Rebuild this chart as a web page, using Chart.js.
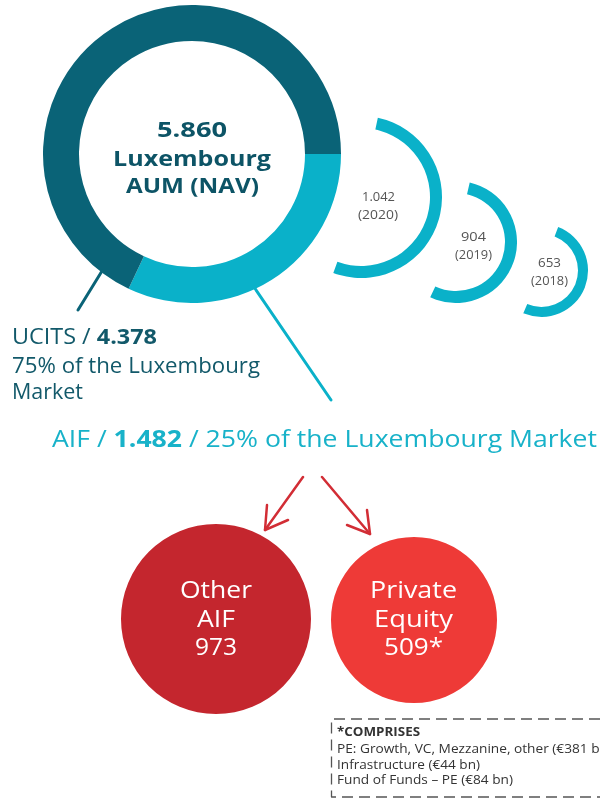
<!DOCTYPE html>
<html><head><meta charset="utf-8">
<script src="https://cdn.jsdelivr.net/npm/chart.js@4.4.1/dist/chart.umd.min.js"></script>
<style>
html,body{margin:0;padding:0;background:#fff;}
body{width:600px;height:798px;position:relative;overflow:hidden;font-family:"Open Sans","Noto Sans",sans-serif;}
canvas{position:absolute;}
.t{position:absolute;white-space:nowrap;line-height:1;transform-origin:0 0;}
svg{position:absolute;left:0;top:0;}
</style></head><body>
<script>
// ---- data ----
const ringLabels = ['AIF', 'UCITS'];
const ringShares = [32, 68];            // share of the ring as drawn in the picture
const marketLabels = ['UCITS', 'AIF'];
const marketValues = [4378, 1482];      // € bn
const marketPercents = [75, 25];
const totalAum = 5860;
const historyYears = ['2020', '2019', '2018'];
const historyValues = [1042, 904, 653];
const splitLabels = [['Other', 'AIF'], ['Private', 'Equity']];
const splitValues = [973, 509];
const peLabels = ['PE: Growth, VC, Mezzanine, other', 'Infrastructure', 'Fund of Funds \u2013 PE'];
const peValues = [381, 44, 84];

const fmt = v => String(v).replace(/\B(?=(\d{3})+(?!\d))/g, '.');

const DARK = '#0a6377', LIGHT = '#0ab1c9', RED1 = '#c4262e', RED2 = '#ee3a37';

function makeCanvas(left, top, size) {
  const c = document.createElement('canvas');
  c.width = size; c.height = size;
  c.style.left = left + 'px'; c.style.top = top + 'px';
  c.style.width = size + 'px'; c.style.height = size + 'px';
  document.body.appendChild(c);
  return c;
}
const baseOpts = {
  responsive: false, animation: false, devicePixelRatio: 1,
  layout: { padding: 0 }, events: [],
  plugins: { legend: { display: false }, tooltip: { enabled: false } },
  elements: { arc: { borderWidth: 0, borderColor: 'rgba(0,0,0,0)' } }
};

// main ring
new Chart(makeCanvas(43, 5, 298), {
  type: 'doughnut',
  data: { labels: ringLabels, datasets: [{ data: ringShares, backgroundColor: [LIGHT, DARK], borderWidth: 0 }] },
  options: Object.assign({}, baseOpts, { cutout: 113, rotation: 90 })
});

// history arcs
const arcGeo = [
  { cx: 361, cy: 197, r: 81, w: 12, start: -78, span: 188 },
  { cx: 456, cy: 242, r: 61, w: 12, start: -77, span: 192 },
  { cx: 541.5, cy: 270.5, r: 46.5, w: 10, start: -69, span: 182 }
];
historyValues.forEach((v, i) => {
  const g = arcGeo[i];
  const size = Math.round(g.r * 2);
  new Chart(makeCanvas(g.cx - size / 2, g.cy - size / 2, size), {
    type: 'doughnut',
    data: { labels: [historyYears[i], ''], datasets: [{ data: [v, v * (360 - g.span) / g.span], backgroundColor: [LIGHT, 'rgba(0,0,0,0)'], borderWidth: 0 }] },
    options: Object.assign({}, baseOpts, { cutout: g.r - g.w, rotation: g.start + 90 })
  });
});

// AIF split circles
const circGeo = [{ cx: 216, cy: 619, r: 95, c: RED1 }, { cx: 413.5, cy: 620, r: 83, c: RED2 }];
splitValues.forEach((v, i) => {
  const g = circGeo[i];
  const size = Math.round(g.r * 2);
  new Chart(makeCanvas(g.cx - size / 2, g.cy - size / 2, size), {
    type: 'pie',
    data: { labels: [splitLabels[i].join(' ')], datasets: [{ data: [v], backgroundColor: [g.c], borderWidth: 0 }] },
    options: Object.assign({}, baseOpts)
  });
});

// decorations
const svgNS = 'http://www.w3.org/2000/svg';
const svg = document.createElementNS(svgNS, 'svg');
svg.setAttribute('width', 600); svg.setAttribute('height', 798);
document.body.appendChild(svg);
function line(pts, color, w, dash) {
  const p = document.createElementNS(svgNS, 'polyline');
  p.setAttribute('points', pts.map(q => q.join(',')).join(' '));
  p.setAttribute('fill', 'none'); p.setAttribute('stroke', color);
  p.setAttribute('stroke-width', w); p.setAttribute('stroke-linecap', dash ? 'butt' : 'round');
  p.setAttribute('stroke-linejoin', 'round');
  if (dash) p.setAttribute('stroke-dasharray', dash);
  svg.appendChild(p);
}
line([[102, 271], [78, 310]], DARK, 3);
line([[254, 287], [331, 400]], LIGHT, 3);
const ARROW = '#d22d35';
line([[303, 477], [265, 530]], ARROW, 2.5);
line([[267, 505], [265, 530], [288, 520]], ARROW, 2.5);
line([[322, 477], [370, 534]], ARROW, 2.5);
line([[367, 510], [370, 534], [347, 525]], ARROW, 2.5);
line([[600, 719], [331.5, 719], [331.5, 797], [600, 797]], '#555', 1.3, '11 6');

// text: natural font, stretched horizontally to the measured width of the reference
function addText(html, x, baseline, size, o) {
  o = o || {};
  const d = document.createElement('div');
  d.className = 't';
  d.style.fontSize = size + 'px';
  d.style.top = (baseline - 0.888 * size) + 'px';
  d.style.color = o.color || '#000';
  d.style.fontWeight = o.weight || 400;
  d.innerHTML = html;
  document.body.appendChild(d);
  const w = d.getBoundingClientRect().width;
  let fw = w;
  if (o.width) {
    d.style.transform = 'scaleX(' + (o.width / w) + ')';
    fw = o.width;
  }
  d.style.left = (o.align === 'center' ? x - fw / 2 : x) + 'px';
  return d;
}
const CTXT = '#0d5466';
addText(fmt(totalAum), 192, 137, 22, { color: CTXT, weight: 700, align: 'center', width: 70 });
addText('Luxembourg', 192, 166, 22, { color: CTXT, weight: 700, align: 'center', width: 158 });
addText('AUM (NAV)', 192, 193, 22, { color: CTXT, weight: 700, align: 'center', width: 133 });

const histLabelGeo = [{ x: 378, b: 202 }, { x: 473, b: 242 }, { x: 549, b: 268 }];
const histW = [[33, 40], [25, 37], [23, 37]];
historyValues.forEach((v, i) => {
  const g = histLabelGeo[i];
  addText(fmt(v), g.x, g.b, 12.5, { color: '#555', align: 'center', width: histW[i][0] });
  addText('(' + historyYears[i] + ')', g.x, g.b + 18, 12.5, { color: '#555', align: 'center', width: histW[i][1] });
});

const UC = '#12596a';
addText(marketLabels[0] + ' / <b>' + fmt(marketValues[0]) + '</b>', 12, 345, 21, { color: UC, width: 145 });
addText(marketPercents[0] + '% of the Luxembourg', 12, 374, 21, { color: UC, width: 248 });
addText('Market', 12, 400, 21, { color: UC, width: 71 });

addText(marketLabels[1] + ' / <b>' + fmt(marketValues[1]) + '</b> / ' + marketPercents[1] + '% of the Luxembourg Market', 52, 447, 24, { color: '#18b2c9', width: 545 });

const circW = [[72, 38, 42], [87, 79, 59]];
splitValues.forEach((v, i) => {
  const g = circGeo[i];
  addText(splitLabels[i][0], g.cx, 598, 23, { color: '#fff', align: 'center', width: circW[i][0] });
  addText(splitLabels[i][1], g.cx, 627, 23, { color: '#fff', align: 'center', width: circW[i][1] });
  addText(fmt(v) + (i === 1 ? '*' : ''), g.cx, 655, 23, { color: '#fff', align: 'center', width: circW[i][2] });
});

const FN = '#333';
addText('*COMPRISES', 337, 737, 12, { color: FN, weight: 700, width: 83 });
addText(peLabels[0] + ' (\u20ac' + peValues[0] + ' bn)', 337, 754, 12.5, { color: FN, width: 275 });
addText(peLabels[1] + ' (\u20ac' + peValues[1] + ' bn)', 337, 770, 12.5, { color: FN, width: 143 });
addText(peLabels[2] + ' (\u20ac' + peValues[2] + ' bn)', 337, 785, 12.5, { color: FN, width: 176 });
</script>
</body></html>
